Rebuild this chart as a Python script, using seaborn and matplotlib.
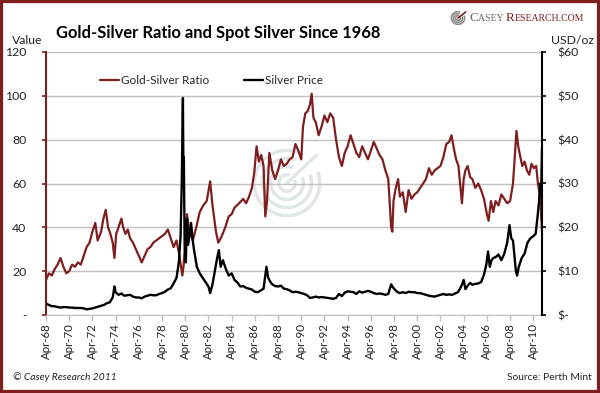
import numpy as np
import pandas as pd
import matplotlib
matplotlib.use("Agg")
import matplotlib.pyplot as plt
from matplotlib.patches import Arc, Rectangle
import seaborn as sns

# values (fractional years)
ratio_dates = [1968.25, 1968.5, 1968.75, 1969.0, 1969.25, 1969.5, 1969.75, 1970.0, 1970.25, 1970.5,
               1970.75, 1971.0, 1971.25, 1971.5, 1971.75, 1972.0, 1972.25, 1972.5, 1972.7, 1973.0,
               1973.2, 1973.4, 1973.6, 1973.8, 1974.0, 1974.15, 1974.3, 1974.5, 1974.75, 1974.9,
               1975.1, 1975.3, 1975.5, 1975.75, 1976.0, 1976.25, 1976.5, 1976.75, 1977.0, 1977.25,
               1977.5, 1977.75, 1978.0, 1978.25, 1978.5, 1978.75, 1979.0, 1979.25, 1979.5, 1979.75,
               1980.0, 1980.1, 1980.25, 1980.4, 1980.6, 1980.9, 1981.2, 1981.5, 1981.8, 1982.1,
               1982.4, 1982.6, 1982.9, 1983.1, 1983.4, 1983.7, 1984.0, 1984.25, 1984.5, 1984.9,
               1985.25, 1985.5, 1985.75, 1986.0, 1986.2, 1986.4, 1986.6, 1986.8, 1987.0, 1987.15,
               1987.3, 1987.5, 1987.75, 1988.0, 1988.25, 1988.5, 1988.75, 1989.0, 1989.25, 1989.5,
               1989.75, 1990.0, 1990.25, 1990.4, 1990.6, 1990.8, 1991.0, 1991.15, 1991.3, 1991.5,
               1991.75, 1992.0, 1992.25, 1992.5, 1992.75, 1993.0, 1993.25, 1993.5, 1993.75, 1994.0,
               1994.25, 1994.5, 1994.75, 1995.0, 1995.25, 1995.5, 1995.75, 1996.0, 1996.25, 1996.5,
               1996.75, 1997.0, 1997.25, 1997.5, 1997.75, 1998.0, 1998.1, 1998.2, 1998.4, 1998.6,
               1998.75, 1999.0, 1999.25, 1999.5, 1999.75, 2000.0, 2000.25, 2000.5, 2000.75, 2001.0,
               2001.25, 2001.5, 2001.75, 2002.0, 2002.25, 2002.5, 2002.75, 2003.0, 2003.2, 2003.4,
               2003.6, 2003.8, 2004.1, 2004.25, 2004.4, 2004.6, 2004.8, 2005.0, 2005.25, 2005.5,
               2005.75, 2006.0, 2006.25, 2006.4, 2006.6, 2006.8, 2007.0, 2007.25, 2007.5, 2007.75,
               2008.0, 2008.25, 2008.5, 2008.8, 2008.95, 2009.1, 2009.3, 2009.5, 2009.7, 2009.9,
               2010.1, 2010.3, 2010.5, 2010.65, 2010.8, 2010.9, 2011.0]
ratio_values = [16, 19, 18, 21, 23, 26, 22, 19, 20, 23,
                22, 24, 23, 27, 31, 33, 38, 42, 34, 38,
                44, 48, 40, 37, 33, 26, 37, 40, 44, 40,
                37, 39, 35, 33, 30, 27, 24, 27, 30, 31,
                33, 34, 35, 36, 37, 39, 35, 31, 34, 27,
                18, 22, 33, 46, 38, 34, 40, 47, 50, 52,
                61, 50, 38, 33, 36, 40, 45, 46, 49, 51,
                53, 51, 54, 58, 65, 77, 70, 73, 68, 45,
                52, 74, 66, 62, 66, 71, 68, 69, 71, 72,
                78, 75, 71, 86, 92, 93, 96, 101, 90, 88,
                82, 86, 91, 88, 92, 90, 80, 72, 68, 74,
                77, 82, 78, 74, 72, 77, 74, 71, 75, 79,
                76, 73, 71, 66, 62, 40, 38, 52, 58, 62,
                54, 56, 47, 57, 53, 55, 56, 58, 60, 62,
                67, 64, 66, 67, 68, 72, 78, 79, 82, 76,
                71, 68, 51, 62, 66, 68, 63, 62, 58, 60,
                57, 53, 46, 43, 52, 47, 52, 50, 55, 53,
                51, 52, 60, 84, 77, 73, 68, 70, 66, 64,
                69, 67, 68, 60, 55, 48, 38]

silver_dates = [1968.25, 1968.5, 1968.75, 1969.0, 1969.25, 1969.5, 1969.75, 1970.0, 1970.25, 1970.5,
                1970.75, 1971.0, 1971.25, 1971.5, 1971.75, 1972.0, 1972.25, 1972.5, 1972.75, 1973.0,
                1973.25, 1973.5, 1973.75, 1974.0, 1974.15, 1974.25, 1974.5, 1974.75, 1975.0, 1975.25,
                1975.5, 1975.75, 1976.0, 1976.25, 1976.5, 1976.75, 1977.0, 1977.25, 1977.5, 1977.75,
                1978.0, 1978.25, 1978.5, 1978.75, 1979.0, 1979.25, 1979.5, 1979.7, 1979.85, 1979.95,
                1980.05, 1980.1, 1980.13, 1980.2, 1980.3, 1980.4, 1980.5, 1980.6, 1980.75, 1980.9,
                1981.0, 1981.25, 1981.5, 1981.75, 1982.0, 1982.25, 1982.4, 1982.6, 1982.8, 1983.0,
                1983.15, 1983.3, 1983.5, 1983.75, 1984.0, 1984.25, 1984.5, 1984.75, 1985.0, 1985.25,
                1985.5, 1985.75, 1986.0, 1986.25, 1986.5, 1986.75, 1987.0, 1987.25, 1987.4, 1987.6,
                1987.75, 1988.0, 1988.25, 1988.5, 1988.75, 1989.0, 1989.25, 1989.5, 1989.75, 1990.0,
                1990.25, 1990.5, 1990.75, 1991.0, 1991.25, 1991.5, 1991.75, 1992.0, 1992.25, 1992.5,
                1992.75, 1993.0, 1993.25, 1993.5, 1993.75, 1994.0, 1994.25, 1994.5, 1994.75, 1995.0,
                1995.25, 1995.5, 1995.75, 1996.0, 1996.25, 1996.5, 1996.75, 1997.0, 1997.25, 1997.5,
                1997.75, 1998.0, 1998.1, 1998.25, 1998.5, 1998.75, 1999.0, 1999.25, 1999.5, 1999.75,
                2000.0, 2000.25, 2000.5, 2000.75, 2001.0, 2001.25, 2001.5, 2001.75, 2002.0, 2002.25,
                2002.5, 2002.75, 2003.0, 2003.25, 2003.5, 2003.75, 2004.0, 2004.25, 2004.4, 2004.6,
                2004.8, 2005.0, 2005.25, 2005.5, 2005.75, 2006.0, 2006.2, 2006.35, 2006.5, 2006.65,
                2006.8, 2007.0, 2007.25, 2007.5, 2007.75, 2008.0, 2008.2, 2008.35, 2008.5, 2008.75,
                2008.85, 2009.0, 2009.25, 2009.5, 2009.75, 2010.0, 2010.25, 2010.45, 2010.6, 2010.75,
                2010.85, 2010.93, 2011.0]
silver_values = [2.6, 2.3, 2.0, 2.0, 1.8, 1.7, 1.8, 1.8, 1.7, 1.7,
                 1.6, 1.6, 1.6, 1.5, 1.3, 1.4, 1.5, 1.7, 1.9, 2.1,
                 2.3, 2.7, 2.9, 4.0, 6.5, 5.2, 4.6, 4.9, 4.4, 4.5,
                 4.6, 4.2, 4.0, 4.0, 3.8, 4.2, 4.4, 4.6, 4.5, 4.5,
                 4.8, 5.0, 5.3, 5.8, 6.1, 7.2, 8.5, 12, 18, 30,
                 49.5, 30, 36, 16, 12, 22, 16, 18, 21, 17,
                 15, 11, 9.5, 8.5, 7.5, 6.5, 5.0, 7, 10, 13,
                 14.8, 11, 12.5, 10.5, 9, 9.5, 8, 7.4, 6.5, 6.6,
                 6.2, 6.0, 5.8, 5.3, 5.2, 5.6, 6.0, 11, 8.5, 7.5,
                 7.0, 6.6, 6.5, 6.7, 6.0, 5.9, 5.6, 5.2, 5.3, 5.2,
                 5.0, 4.8, 4.5, 3.9, 4.0, 4.2, 4.0, 4.1, 4.0, 3.9,
                 3.8, 3.7, 3.9, 4.8, 4.3, 5.1, 5.4, 5.3, 5.2, 4.8,
                 5.4, 5.1, 5.3, 5.5, 5.3, 5.0, 4.8, 4.9, 4.8, 4.6,
                 4.8, 7.0, 6.5, 6.0, 5.3, 5.0, 5.2, 5.0, 5.3, 5.2,
                 5.2, 5.0, 5.0, 4.8, 4.6, 4.4, 4.3, 4.2, 4.4, 4.6,
                 4.8, 4.6, 4.7, 4.6, 4.9, 5.2, 6.3, 8.0, 5.9, 6.7,
                 7.3, 6.9, 7.1, 7.2, 7.5, 9.2, 11.5, 14.5, 11.0, 12.5,
                 13.0, 13.2, 13.8, 12.5, 14.0, 16.5, 20.5, 17.5, 17.0, 10,
                 9.0, 11.0, 13, 14, 16.5, 17.5, 18.0, 18.5, 22, 26,
                 30, 28, 38]

tick_years = [1968.25 + 2 * i for i in range(22)]
tick_labels = ["Apr-%02d" % ((68 + 2 * i) % 100) for i in range(22)]
left_ticks = [0, 20, 40, 60, 80, 100, 120]
left_labels = ["-", "20", "40", "60", "80", "100", "120"]
right_ticks = [0, 10, 20, 30, 40, 50, 60]
right_labels = ["$-", "$10", "$20", "$30", "$40", "$50", "$60"]

RED = "#7f1e1e"
GRID = "#c0c0c0"
TXT = "#222222"
W, H = 600, 393

sns.set_style("white")
plt.rcParams["font.family"] = ["Lato", "DejaVu Sans"]

ratio_df = pd.DataFrame({"date": ratio_dates, "ratio": ratio_values})
silver_df = pd.DataFrame({"date": silver_dates, "silver": silver_values})

fig = plt.figure(figsize=(W / 100, H / 100), dpi=100)

# faint watermark behind the plot
wm = fig.add_axes([(287 - 36) / W, 1 - (183 + 36) / H, 72 / W, 72 / H])
wm.set_xlim(-1.1, 1.1)
wm.set_ylim(-1.1, 1.1)
wm.set_aspect("equal")
wm.axis("off")
for r in [0.25, 0.5, 0.75, 1.0]:
    wm.add_patch(Arc((0, 0), 2 * r, 2 * r, theta1=70, theta2=380, color="#dfe7e8", lw=2.5))
wm.plot([0, 0.9], [0, 0.85], color="#dfe7e8", lw=2.5)
wm.set_zorder(0)

ax = fig.add_axes([46 / W, 1 - 315 / H, 496 / W, 263 / H])
ax.set_zorder(1)
ax.patch.set_visible(False)
ax2 = ax.twinx()
ax2.set_zorder(2)
ax2.patch.set_visible(False)

sns.lineplot(data=ratio_df, x="date", y="ratio", ax=ax, color=RED, lw=1.6,
             label="Gold-Silver Ratio", legend=False)
sns.lineplot(data=silver_df, x="date", y="silver", ax=ax2, color="black", lw=1.7,
             label="Silver Price", legend=False)

ax.set_xlim(1968.25, 2011.0)
ax.set_ylim(0, 120)
ax2.set_ylim(0, 60)
ax.set_xlabel("")
ax.set_ylabel("")
ax2.set_ylabel("")

ax.set_yticks(left_ticks)
ax.set_yticklabels(left_labels)
ax2.set_yticks(right_ticks)
ax2.set_yticklabels(right_labels)
ax.set_xticks(tick_years)
ax.set_xticklabels(tick_labels, rotation=90)

ax.grid(axis="y", color=GRID, lw=1)
ax.grid(axis="x", visible=False)
ax2.grid(False)

for s in ["top", "right"]:
    ax.spines[s].set_visible(False)
ax.spines["left"].set_color(RED)
ax.spines["left"].set_linewidth(1.5)
ax.spines["bottom"].set_color(GRID)
for s in ["top", "left", "bottom"]:
    ax2.spines[s].set_visible(False)
ax2.spines["right"].set_color("black")
ax2.spines["right"].set_linewidth(1.5)

ax.tick_params(axis="y", direction="out", length=3, width=1.2, color=RED, pad=11,
               labelsize=8.8, labelcolor=TXT, left=True)
ax.tick_params(axis="x", direction="out", length=4, width=1, color=GRID, pad=2,
               labelsize=8.3, labelcolor=TXT, bottom=True)
ax2.tick_params(axis="y", direction="out", length=3, width=1.2, color="black", pad=8,
                labelsize=8.8, labelcolor=TXT, right=True)

h1, l1 = ax.get_legend_handles_labels()
h2, l2 = ax2.get_legend_handles_labels()
ax2.legend(h1 + h2, l1 + l2, ncol=2, frameon=False, loc="center left",
           bbox_to_anchor=(100 / W, 1 - 81 / H), bbox_transform=fig.transFigure,
           borderpad=0, borderaxespad=0, handlelength=1.6, handletextpad=0.15,
           columnspacing=3.0, fontsize=8.5)

fig.text(56 / W, 1 - 33 / H, "Gold-Silver Ratio and Spot Silver Since 1968",
         fontsize=11.9, fontweight="bold", va="center", ha="left", color="black")
fig.text(27 / W, 1 - 41 / H, "Value", fontsize=8.8, ha="center", va="center", color=TXT)
fig.text(572 / W, 1 - 41 / H, "USD/oz", fontsize=8.8, ha="center", va="center", color=TXT)
fig.text(13 / W, 1 - 377 / H, "\u00a9 Casey Research 2011", fontsize=7.4, style="italic",
         ha="left", va="center", color=TXT)
fig.text(592 / W, 1 - 377 / H, "Source: Perth Mint", fontsize=7.4,
         ha="right", va="center", color=TXT)

# logo: icon + small caps wordmark
ic = fig.add_axes([449 / W, 1 - 25 / H, 18 / W, 14 / H])
ic.set_xlim(-1.3, 1.3)
ic.set_ylim(-1.05, 1.05)
ic.axis("off")
for r in [0.35, 0.65, 0.95]:
    ic.add_patch(Arc((0, 0), 2 * r, 2 * r, theta1=70, theta2=380, color="#8a8a8a", lw=1.2))
ic.plot([0, 1.1], [0, 0.9], color=RED, lw=1.2)

renderer = fig.canvas.get_renderer()
x = 469
pieces = [("C", 9.5, "#666666"), ("ASEY ", 7.0, "#666666"),
          ("R", 9.5, RED), ("ESEARCH.COM", 7.0, RED)]
for txt, size, col in pieces:
    t = fig.text(x / W, 1 - 21 / H, txt, fontsize=size, color=col,
                 family="Liberation Serif", ha="left", va="baseline")
    x += t.get_window_extent(renderer=renderer).width

fig.patches.append(Rectangle((0, 0), 1, 1, transform=fig.transFigure, fill=False,
                             edgecolor=RED, lw=4.5, zorder=10))

fig.savefig("out.png", dpi=100)
